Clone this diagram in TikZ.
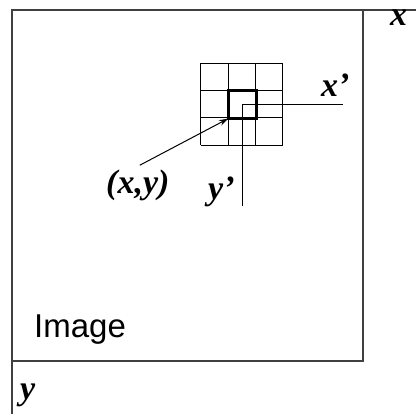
\documentclass[tikz,border=0pt]{standalone}
\usepackage{fontspec}
\setmainfont{Liberation Serif}
\setsansfont{Liberation Sans}
\usetikzlibrary{arrows.meta}
\tikzset{
  lab/.style={font=\bfseries\itshape\fontsize{34}{34}\selectfont,inner sep=0pt,anchor=base west},
  frame/.style={line width=1.5pt,black!75}
}
\begin{document}
\begin{tikzpicture}[x=1pt,y=-1pt,line join=miter]
  \useasboundingbox (0,0) rectangle (416,414);
  \coordinate (O) at (12,10);
  \coordinate (X) at (416,10);
  \coordinate (Y) at (12,414);
  \coordinate (C) at (363,361);
  \coordinate (P) at (228,118.7);
  \coordinate (Q) at (242,105);
  \draw[frame] (X) -- (O) -- (Y);
  \draw[frame] (O -| C) -- (C) -- (O |- C);
  \foreach \i in {0,...,3} {
    \draw[line width=1pt] (200.7+27.33*\i,63.3) -- (200.7+27.33*\i,145.3);
    \draw[line width=1pt] (200.7,63.3+27.33*\i) -- (282.7,63.3+27.33*\i);
  }
  \draw[line width=3pt] (P) rectangle (256,91);
  \draw[line width=1pt] (Q) -- (343,105);
  \draw[line width=1pt] (Q) -- (242,206);
  \node[lab] (xa) at (390,26) {x};
  \node[lab] (ya) at (20,400) {y};
  \node[lab] (xp) at (321,97) {x’};
  \node[lab] (yp) at (208,200) {y’};
  \node[lab] (xy) at (106,194) {(x,y)};
  \node[font=\sffamily\fontsize{33}{33}\selectfont,inner sep=0pt,anchor=base west] (img) at (34,338) {Image};
  \draw[line width=1pt,-{Stealth[length=9pt,width=6pt]}] ([xshift=2pt,yshift=5pt]xy.north) -- (P);
\end{tikzpicture}
\end{document}
